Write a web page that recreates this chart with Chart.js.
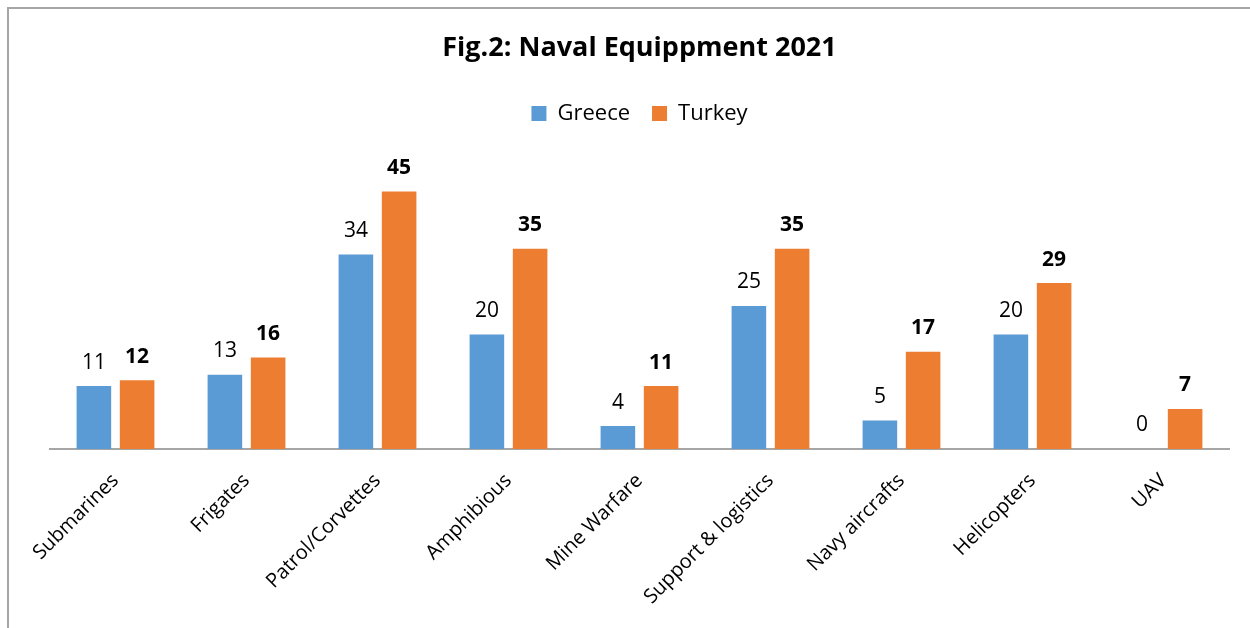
<!DOCTYPE html>
<html>
<head>
<meta charset="utf-8">
<script src="https://cdn.jsdelivr.net/npm/chart.js@4"></script>
<style>
  html, body { margin: 0; padding: 0; background: #fff; }
  #wrap { position: relative; width: 1250px; height: 628px; }
  #frame { position: absolute; left: 7px; top: 7px; width: 1260px; height: 640px;
           border-left: 2px solid #a6a6a6; border-top: 2px solid #a6a6a6; }
  canvas { position: absolute; left: 0; top: 0; }
</style>
</head>
<body>
<div id="wrap">
  <div id="frame"></div>
  <canvas id="grafico" width="1250" height="628"></canvas>
</div>
<script>
// dados
const categorias = ['Submarines', 'Frigates', 'Patrol/Corvettes', 'Amphibious', 'Mine Warfare',
                    'Support & logistics', 'Navy aircrafts', 'Helicopters', 'UAV'];
const greece = [11, 13, 34, 20, 4, 25, 5, 20, 0];
const turkey = [12, 16, 45, 35, 11, 35, 17, 29, 7];

const FONTE = "'Open Sans', 'Liberation Sans', sans-serif";

// rótulos em cima das barras
const rotulosPlugin = {
    id: 'rotulos',
    afterDatasetsDraw(chart) {
        const ctx = chart.ctx;
        ctx.save();
        ctx.fillStyle = '#000';
        ctx.textAlign = 'center';
        ctx.textBaseline = 'bottom';
        chart.data.datasets.forEach((ds, i) => {
            const meta = chart.getDatasetMeta(i);
            ctx.font = (i === 1 ? 'bold ' : '') + '21px ' + FONTE;
            meta.data.forEach((bar, j) => {
                ctx.fillText(ds.data[j], bar.x, bar.y - 13);
            });
        });
        ctx.restore();
    }
};

new Chart(document.getElementById('grafico'), {
    type: 'bar',
    data: {
        labels: categorias,
        datasets: [
            { label: 'Greece', data: greece, backgroundColor: '#5b9bd5',
              categoryPercentage: 0.66, barPercentage: 0.8 },
            { label: 'Turkey', data: turkey, backgroundColor: '#ed7d31',
              categoryPercentage: 0.66, barPercentage: 0.8 }
        ]
    },
    options: {
        responsive: false,
        animation: false,
        layout: { padding: { top: 18, left: 50, right: 21, bottom: 0 } },
        plugins: {
            title: {
                display: true,
                text: 'Fig.2: Naval Equippment 2021',
                color: '#000',
                font: { family: FONTE, size: 27, weight: 'bold' },
                padding: { top: 14, bottom: 16 }
            },
            legend: {
                display: true,
                labels: {
                    color: '#000',
                    font: { family: FONTE, size: 22 },
                    boxWidth: 15,
                    boxHeight: 15,
                    padding: 22
                }
            },
            tooltip: { enabled: false }
        },
        scales: {
            x: {
                grid: { display: false },
                border: { display: true, color: '#a6a6a6', width: 2 },
                ticks: {
                    color: '#000',
                    font: { family: FONTE, size: 20 },
                    maxRotation: 45,
                    minRotation: 45,
                    autoSkip: false,
                    padding: 12
                },
                afterFit(scale) { scale.height = 179; }
            },
            y: {
                display: false,
                min: 0,
                max: 55
            }
        }
    },
    plugins: [rotulosPlugin]
});
</script>
</body>
</html>
